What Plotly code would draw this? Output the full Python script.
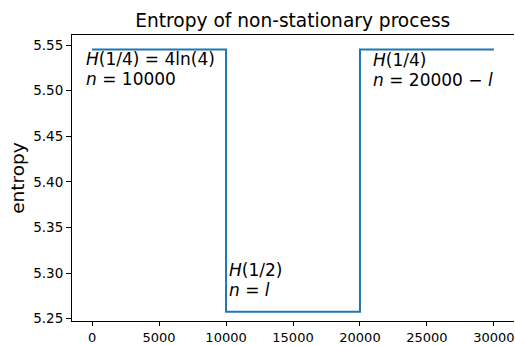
import plotly.graph_objects as go

# data
x_vals = [0, 10000, 10000, 20000, 20000, 30000]
entropy_vals = [5.5452, 5.5452, 5.2575, 5.2575, 5.5452, 5.5452]
x_ticks = [0, 5000, 10000, 15000, 20000, 25000, 30000]
y_ticks = [5.25, 5.30, 5.35, 5.40, 5.45, 5.50, 5.55]
label_lines = [
    ["<i>H</i>(1/4) = 4ln(4)", "<i>n</i> = 10000"],
    ["<i>H</i>(1/2)", "<i>n</i> = <i>l</i>"],
    ["<i>H</i>(1/4)", "<i>n</i> = 20000 − <i>l</i>"],
]
label_x = [-500, 10150, 20900]
label_y = [[5.5352, 5.5133], [5.3033, 5.2814], [5.5336, 5.5117]]

fig = go.Figure()
fig.add_trace(go.Scatter(x=x_vals, y=entropy_vals, mode="lines",
                         line=dict(color="#1f77b4", width=2), showlegend=False))

for lines, xx, ys in zip(label_lines, label_x, label_y):
    for t, yy in zip(lines, ys):
        fig.add_annotation(x=xx, y=yy, text=t, showarrow=False, xanchor="left", yanchor="middle",
                           align="left", valign="middle", borderpad=0,
                           font=dict(family="DejaVu Sans", size=17, color="black"))

fig.update_layout(
    width=515, height=345,
    margin=dict(l=72, r=1, t=35, b=24, autoexpand=False),
    plot_bgcolor="white", paper_bgcolor="white",
    font=dict(family="DejaVu Sans", color="black"),
    title=dict(text="Entropy of non-stationary process", x=0.5685, xanchor="center",
               y=0.94, yanchor="middle", font=dict(size=18.6)),
)
fig.update_xaxes(range=[-1500, 31500], tickvals=x_ticks, ticktext=[str(v) for v in x_ticks],
                 showgrid=False, zeroline=False, showline=True, linecolor="black", linewidth=1,
                 mirror=True, ticks="outside", ticklen=4, tickcolor="black",
                 tickfont=dict(size=13), ticklabeloverflow="allow", automargin=False)
fig.update_yaxes(range=[5.2474, 5.5610], tickvals=y_ticks, ticktext=[f"{v:.2f}" for v in y_ticks],
                 showgrid=False, zeroline=False, showline=True, linecolor="black", linewidth=1,
                 mirror=False, ticks="outside", ticklen=5, tickcolor="black",
                 tickfont=dict(size=13.5), automargin=False,
                 title=dict(text="entropy", font=dict(size=18.5), standoff=3))

fig.write_html("out.html")
